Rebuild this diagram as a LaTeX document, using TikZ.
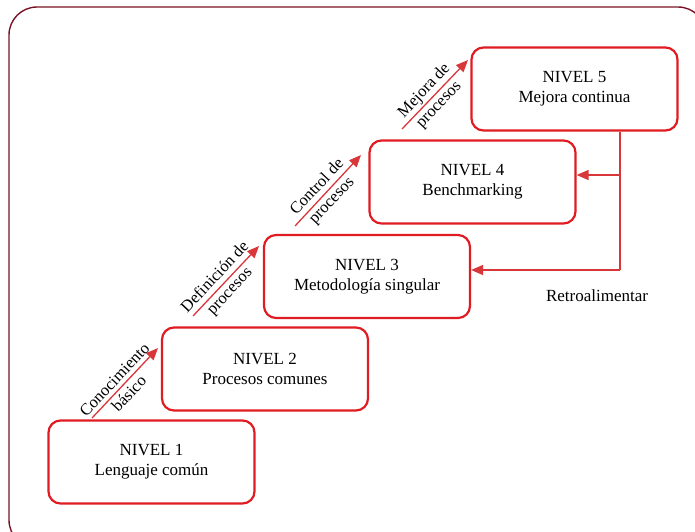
\documentclass[tikz,border=0pt]{standalone}
\usepackage{fontspec}
\setmainfont{Liberation Serif}
\usetikzlibrary{arrows.meta,calc}

\definecolor{boxred}{HTML}{E01B22}
\definecolor{linered}{HTML}{D9363A}
\definecolor{framered}{HTML}{7A1424}

\tikzset{
  level/.style={draw=boxred, line width=2.2pt, rounded corners=12pt, fill=white,
    minimum width=206pt, minimum height=83pt, align=center,
    font=\fontsize{17}{20}\selectfont},
  stair/.style={draw=linered, line width=1.3pt,
    -{Triangle[length=12pt,width=10pt]}},
  feedback/.style={draw=linered, line width=1.3pt},
  feedarrow/.style={feedback, -{Triangle[length=12pt,width=10pt]}},
  steplabel/.style={align=center, rotate=46.7, inner sep=0pt,
    font=\fontsize{16.5}{20}\selectfont},
  plainlabel/.style={font=\fontsize{17}{20}\selectfont}
}

\begin{document}
\begin{tikzpicture}[x=1pt, y=-1pt]
  \useasboundingbox (0,0) rectangle (695,531);
  \begin{scope}
    \clip (0,0) rectangle (695,531);
    % outer frame, running off the right and bottom edges
    \draw[framered, line width=1.4pt, rounded corners=28pt] (9,7) rectangle (706,548);
  \end{scope}

  % the five levels
  \node[level] (n1) at (151.5,462) {NIVEL 1\\Lenguaje común};
  \node[level] (n2) at (265,369)   {NIVEL 2\\Procesos comunes};
  \node[level] (n3) at (367,276.5) {NIVEL 3\\Metodología singular};
  \node[level] (n4) at (472.5,182) {NIVEL 4\\Benchmarking};
  \node[level] (n5) at (574.5,89)  {NIVEL 5\\Mejora continua};

  % stair arrows between levels
  \coordinate (a1s) at (92,418);  \coordinate (a1e) at (158,348);
  \coordinate (a2s) at (193,316); \coordinate (a2e) at (259,246);
  \coordinate (a3s) at (295,226); \coordinate (a3e) at (361,155);
  \coordinate (a4s) at (402,129); \coordinate (a4e) at (468,60);

  \draw[stair] (a1s) -- (a1e);
  \draw[stair] (a2s) -- (a2e);
  \draw[stair] (a3s) -- (a3e);
  \draw[stair] (a4s) -- (a4e);

  \node[steplabel] (l1) at ($(a1s)!0.45!(a1e)$) {Conocimiento\\básico};
  \node[steplabel] (l2) at ($(a2s)!0.45!(a2e)$) {Definición de\\procesos};
  \node[steplabel] (l3) at ($(a3s)!0.45!(a3e)$) {Control de\\procesos};
  \node[steplabel] (l4) at ($(a4s)!0.45!(a4e)$) {Mejora de\\procesos};

  % feedback loop from level 5 back to levels 4 and 3
  \coordinate (top) at (620,0 |- n5.south);
  \coordinate (f4) at (620,175);
  \coordinate (f3) at (620,270);
  \draw[feedback] (top) -- (f3);
  \draw[feedarrow] (f3) -- (n3.east |- f3);
  \draw[feedarrow] (f4) -- (n4.east |- f4);

  \node[plainlabel] (fb) at (597,296) {Retroalimentar};
\end{tikzpicture}
\end{document}
